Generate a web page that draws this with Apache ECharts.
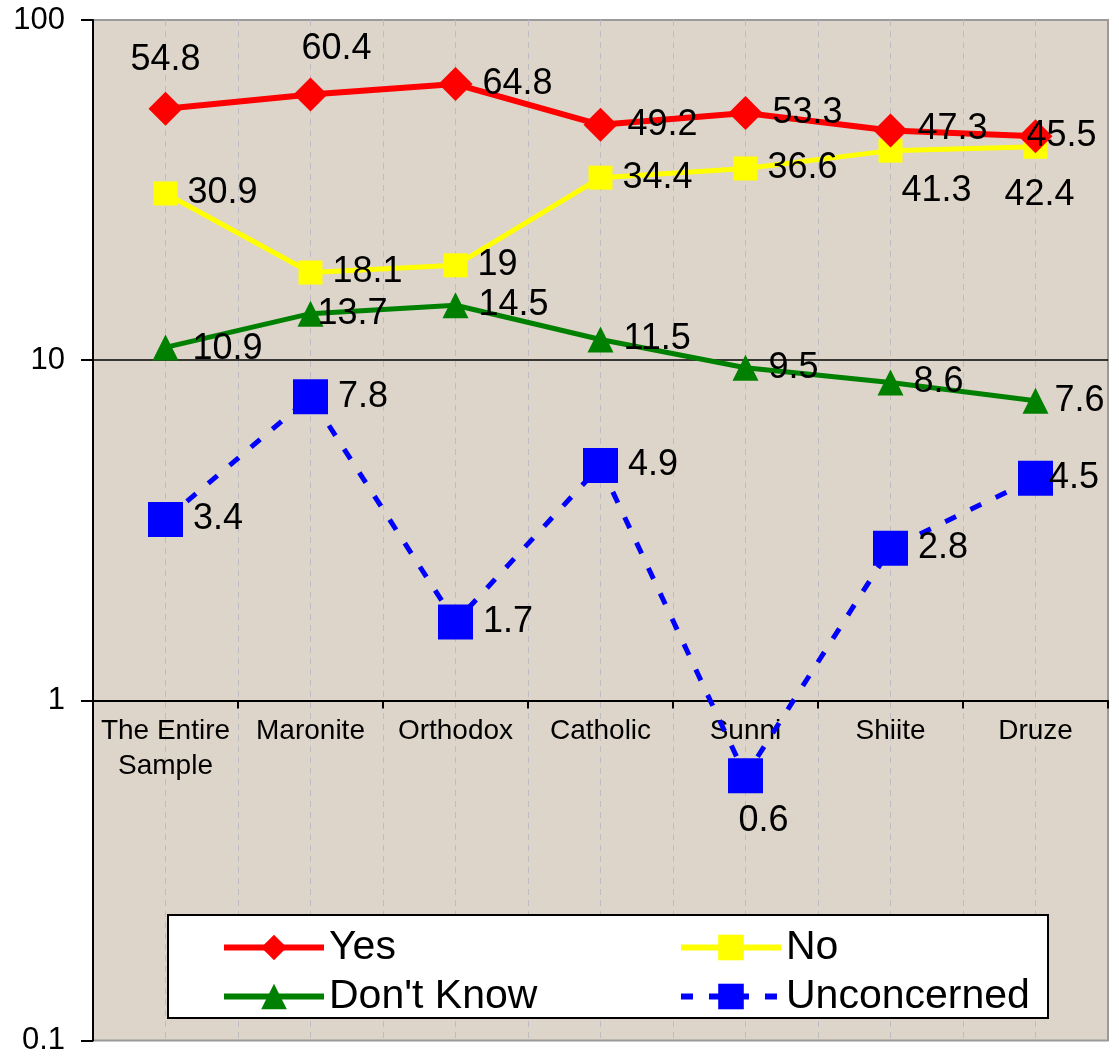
<!DOCTYPE html>
<html>
<head>
<meta charset="utf-8">
<script src="https://cdn.jsdelivr.net/npm/echarts@6/dist/echarts.min.js"></script>
<style>
html,body{margin:0;padding:0;background:#fff;}
#chart{width:1119px;height:1056px;}
</style>
</head>
<body>
<div id="chart"></div>
<script>
const categories = ['The Entire\nSample', 'Maronite', 'Orthodox', 'Catholic', 'Sunni', 'Shiite', 'Druze'];
const yesValues = [54.8, 60.4, 64.8, 49.2, 53.3, 47.3, 45.5];
const noValues = [30.9, 18.1, 19, 34.4, 36.6, 41.3, 42.4];
const dontKnowValues = [10.9, 13.7, 14.5, 11.5, 9.5, 8.6, 7.6];
const unconcernedValues = [3.4, 7.8, 1.7, 4.9, 0.6, 2.8, 4.5];
const yTicks = [0.1, 1, 10, 100];

const FONT = 'Liberation Sans, Arial, sans-serif';

// per-point label placement tweaks (style only)
const yesLabelCfg = [
  {position: 'top', offset: [0, -4]},
  {position: 'top', offset: [26, 0]},
  {}, {}, {offset: [0, 0]}, {offset: [0, -2]},
  {offset: [-36, 0]}
];
const noLabelCfg = [
  {}, {}, {}, {}, {},
  {position: 'bottom', offset: [46, 0]},
  {position: 'bottom', offset: [4, 8]}
];
const dkLabelCfg = [{offset: [4, 2]}, {offset: [-16, 0]}, {}, {}, {}, {}, {offset: [-4, 0]}];
const unLabelCfg = [{}, {}, {}, {}, {position: 'bottom', offset: [18, 0]}, {}, {offset: [-14, 0]}];

function build(values, cfg) {
  return values.map((v, i) => ({value: v, label: cfg[i] || {}}));
}

const baseLabel = {
  show: true,
  position: 'right',
  distance: 10,
  color: '#000',
  fontSize: 36,
  fontFamily: FONT
};

const legendCommon = {
  orient: 'vertical',
  top: 922,
  itemWidth: 100, itemHeight: 32, itemGap: 8,
  lineStyle: {width: 6},
  textStyle: {fontSize: 41, color: '#000', fontFamily: FONT},
  z: 10
};

const chart = echarts.init(document.getElementById('chart'));
chart.setOption({
  backgroundColor: '#ffffff',
  animation: false,
  textStyle: {fontFamily: FONT},
  grid: {
    left: 93, right: 11, top: 20, bottom: 14,
    show: true,
    backgroundColor: '#DDD5C9',
    borderColor: '#9a9a9a',
    borderWidth: 2
  },
  xAxis: [
    {
      type: 'category',
      data: categories,
      boundaryGap: true,
      position: 'bottom',
      offset: -340,
      axisLine: {show: true, lineStyle: {color: '#000', width: 2}},
      axisTick: {show: true, length: 8, lineStyle: {color: '#000', width: 2}},
      axisLabel: {color: '#000', fontSize: 28, fontFamily: FONT, margin: 13, lineHeight: 35, interval: 0},
      splitLine: {show: false}
    },
    {
      type: 'value',
      position: 'top',
      min: 0, max: 14, interval: 1,
      axisLine: {show: false},
      axisTick: {show: false},
      axisLabel: {show: false},
      splitLine: {show: true, showMinLine: false, showMaxLine: false, lineStyle: {color: '#bcbcc2', width: 1, type: [6, 5]}}
    }
  ],
  yAxis: {
    type: 'log',
    logBase: 10,
    min: yTicks[0],
    max: yTicks[yTicks.length - 1],
    axisLine: {show: true, lineStyle: {color: '#000', width: 2}},
    axisTick: {show: true, length: 12, lineStyle: {color: '#000', width: 2}},
    axisLabel: {color: '#000', fontSize: 31, fontFamily: FONT, margin: 28},
    splitLine: {show: true, showMinLine: false, showMaxLine: false, lineStyle: {color: '#000', width: 1.5}}
  },
  legend: [
    Object.assign({}, legendCommon, {left: 216, data: ['Yes', "Don't Know"]}),
    Object.assign({}, legendCommon, {left: 673, data: ['No', 'Unconcerned']})
  ],
  graphic: [{
    type: 'rect',
    z: 5,
    shape: {x: 168, y: 915, width: 880, height: 103},
    style: {fill: '#ffffff', stroke: '#000', lineWidth: 2}
  }],
  series: [
    {
      name: 'Yes', type: 'line', xAxisIndex: 0,
      data: build(yesValues, yesLabelCfg),
      symbol: 'diamond', symbolSize: 34,
      lineStyle: {color: '#FF0000', width: 6},
      itemStyle: {color: '#FF0000'},
      label: baseLabel, z: 3
    },
    {
      name: 'No', type: 'line', xAxisIndex: 0,
      data: build(noValues, noLabelCfg),
      symbol: 'rect', symbolSize: 24,
      lineStyle: {color: '#FFFF00', width: 5},
      itemStyle: {color: '#FFFF00'},
      label: baseLabel, z: 2
    },
    {
      name: "Don't Know", type: 'line', xAxisIndex: 0,
      data: build(dontKnowValues, dkLabelCfg),
      symbol: 'triangle', symbolSize: 26,
      lineStyle: {color: '#008000', width: 5},
      itemStyle: {color: '#008000'},
      label: baseLabel, z: 3
    },
    {
      name: 'Unconcerned', type: 'line', xAxisIndex: 0,
      data: build(unconcernedValues, unLabelCfg),
      symbol: 'rect', symbolSize: 35,
      lineStyle: {color: '#0000FF', width: 5, type: [12, 16]},
      itemStyle: {color: '#0000FF'},
      label: baseLabel, z: 4
    }
  ]
});
</script>
</body>
</html>
